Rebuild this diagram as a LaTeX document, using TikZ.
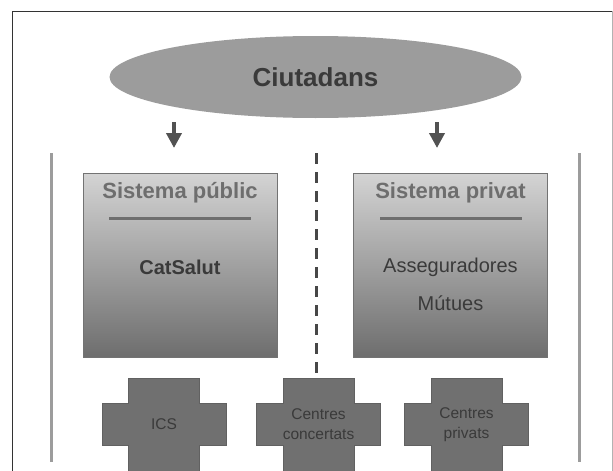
\documentclass[tikz,border=0pt]{standalone}
\usepackage{fontspec}
\setmainfont{Liberation Sans}
\usepackage{xcolor}
\usepackage{tikz}
\usetikzlibrary{positioning, arrows.meta, shapes.geometric}

\definecolor{ellgray}{HTML}{9C9C9C}
\definecolor{txtdark}{HTML}{3A3A3A}
\definecolor{titlegray}{HTML}{6E6E6E}
\definecolor{crossgray}{HTML}{707070}
\definecolor{linegray}{HTML}{9C9C9C}

\begin{document}
\begin{tikzpicture}[
    x=1pt, y=-1pt,
    ell/.style={ellipse, fill=ellgray, minimum width=412pt, minimum height=82pt, inner sep=0pt,
      text=txtdark, font=\fontsize{26}{30}\selectfont\bfseries},
    sysbox/.style={draw=black!55, line width=1pt, top color=black!17, bottom color=black!57,
      minimum width=194pt, minimum height=184pt, inner sep=0pt},
    systitle/.style={text=titlegray, font=\fontsize{22}{26}\selectfont\bfseries},
    sep/.style={line width=3pt, titlegray},
    entry/.style={text=txtdark, font=\fontsize{20}{24}\selectfont},
    crossbg/.style={fill=crossgray, draw=black!62, line width=0.8pt},
    crosstext/.style={text=txtdark, align=center, inner sep=0pt, minimum height=93pt,
      font=\fontsize{15.5}{20}\selectfont},
    arr/.style={-{Triangle[width=15pt, length=15pt]}, line width=4.5pt, black!68},
    side/.style={line width=3pt, linegray},
    split/.style={line width=3pt, black!72, dash pattern=on 11pt off 8pt}]
    \useasboundingbox (0,0) rectangle (613,471);
    % page frame
    \draw[black!80, line width=1pt] (12,471) -- (12,11) -- (612,11);
    \draw[black!30, line width=1pt] (612,11) -- (612,471);

    \node[ell] (ciut) at (315.5,77) {Ciutadans};

    \node[sysbox] (pub) at (180,265) {};
    \node[sysbox] (priv) at (450.5,265) {};
    \node[systitle] (pubtitle) at (180,193) {Sistema públic};
    \node[systitle] (privtitle) at (450.5,193) {Sistema privat};
    \draw[sep] (109,218) -- (251,218);
    \draw[sep] (380,218) -- (522,218);
    \node[entry, font=\fontsize{20}{24}\selectfont\bfseries] (catsalut) at (180,267) {CatSalut};
    \node[entry] (asseg) at (450.5,267) {Asseguradores};
    \node[entry] (mutues) at (450.5,303) {Mútues};

    % arrows from the citizens
    \coordinate (a1) at (174,122);
    \coordinate (a2) at (437,122);
    \draw[arr] (a1) -- (a1 |- 0,148);
    \draw[arr] (a2) -- (a2 |- 0,148);

    % centres
    \foreach \nm/\cx/\txt in {ics/164/ICS, conc/318.5/{Centres\\concertats}, cpriv/466.5/{Centres\\privats}} {
      \filldraw[crossbg] (\cx-35.5,378) -- (\cx+35.5,378) -- (\cx+35.5,403) -- (\cx+62,403)
        -- (\cx+62,445) -- (\cx+35.5,445) -- (\cx+35.5,472) -- (\cx-35.5,472) -- (\cx-35.5,445)
        -- (\cx-62,445) -- (\cx-62,403) -- (\cx-35.5,403) -- cycle;
      \node[crosstext] (\nm) at (\cx,424.5) {\txt};
    }

    % side lines and split
    \coordinate (ltop) at (51,153);
    \coordinate (rtop) at (579,153);
    \coordinate (dtop) at (316,153);
    \draw[side] (ltop) -- (51,462);
    \draw[side] (rtop) -- (579,462);
    \draw[split] (dtop) -- (dtop |- conc.north);
\end{tikzpicture}
\end{document}
